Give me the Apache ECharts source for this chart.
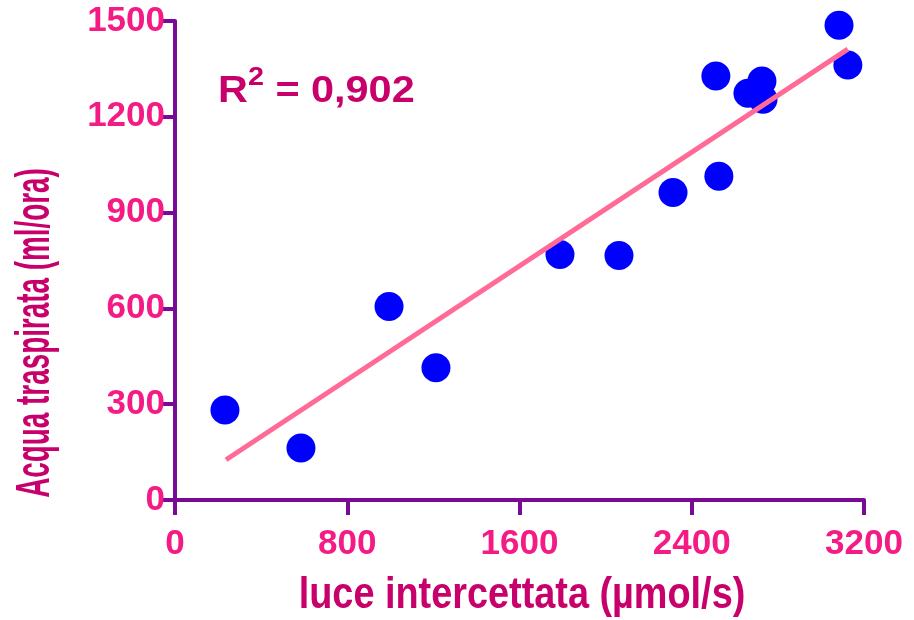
<!DOCTYPE html>
<html>
<head>
<meta charset="utf-8">
<script src="https://cdn.jsdelivr.net/npm/echarts@6/dist/echarts.min.js"></script>
<style>
html,body{margin:0;padding:0;background:#fff;}
#chart{width:914px;height:620px;}
</style>
</head>
<body>
<div id="chart"></div>
<script>
// Data
const lightX = [232, 585, 994, 1212, 1788, 2062, 2313, 2526, 2512, 2661, 2726, 2731, 3084, 3125];
const waterY = [282, 163, 606, 414, 769, 766, 963, 1014, 1328, 1274, 1312, 1255, 1487, 1362];
const fitX = [237, 3125];
const fitY = [126, 1412];
const xTitle = 'luce intercettata (µmol/s)';
const yTitle = 'Acqua traspirata (ml/ora)';
const r2Value = '0,902';

const FONT = '"Liberation Sans", Arial, sans-serif';
const AXIS_COLOR = '#780A96';
const TICK_COLOR = '#F51B85';
const TITLE_COLOR = '#C8006B';

const chart = echarts.init(document.getElementById('chart'));
const axisCommon = {
  axisLine: { show: true, onZero: false, lineStyle: { color: AXIS_COLOR, width: 4 } },
  axisTick: { show: true, inside: false, lineStyle: { color: AXIS_COLOR, width: 4 } },
  splitLine: { show: false },
  axisLabel: { color: TICK_COLOR, fontFamily: FONT, fontWeight: 'bold', fontSize: 35,
    formatter: v => String(v) }
};
chart.setOption({
  animation: false,
  backgroundColor: '#ffffff',
  grid: { left: 175, right: 50, top: 21, bottom: 120, containLabel: false },
  xAxis: Object.assign({}, axisCommon, {
    type: 'value', min: 0, max: 3200, interval: 800,
    axisTick: Object.assign({}, axisCommon.axisTick, { length: 15 }),
    axisLabel: Object.assign({}, axisCommon.axisLabel, { margin: 27 })
  }),
  yAxis: Object.assign({}, axisCommon, {
    type: 'value', min: 0, max: 1500, interval: 300,
    axisTick: Object.assign({}, axisCommon.axisTick, { length: 12 }),
    axisLabel: Object.assign({}, axisCommon.axisLabel, { margin: 10 })
  }),
  series: [
    {
      type: 'scatter',
      data: lightX.map((x, i) => [x, waterY[i]]),
      symbol: 'circle', symbolSize: 29,
      itemStyle: { color: '#0000FF', opacity: 1 },
      z: 2
    },
    {
      type: 'line',
      data: fitX.map((x, i) => [x, fitY[i]]),
      showSymbol: false, symbol: 'none',
      lineStyle: { color: '#FF6B96', width: 5 },
      z: 3
    }
  ],
  graphic: [
    {
      type: 'text', x: 522, y: 596, scaleX: 0.86, scaleY: 1,
      style: { text: xTitle, x: 0, y: 0, align: 'center', verticalAlign: 'middle',
        font: 'bold 44px ' + FONT, fill: TITLE_COLOR }
    },
    {
      type: 'text', x: 36, y: 333, rotation: Math.PI / 2, scaleX: 0.58, scaleY: 1,
      style: { text: yTitle, x: 0, y: 0, align: 'center', verticalAlign: 'middle',
        font: 'bold 48px ' + FONT, fill: TITLE_COLOR }
    },
    {
      type: 'text', x: 218, y: 92, scaleX: 1.15, scaleY: 1,
      style: {
        text: '{r|R}{s|2}{r| = ' + r2Value + '}',
        x: 0, y: 0, align: 'left', verticalAlign: 'middle',
        fill: TITLE_COLOR,
        rich: {
          r: { fontFamily: FONT, fontWeight: 'bold', fontSize: 36, lineHeight: 52, fill: TITLE_COLOR, color: TITLE_COLOR },
          s: { fontFamily: FONT, fontWeight: 'bold', fontSize: 25, lineHeight: 25, verticalAlign: 'top', fill: TITLE_COLOR, color: TITLE_COLOR }
        }
      }
    }
  ]
});
</script>
</body>
</html>
